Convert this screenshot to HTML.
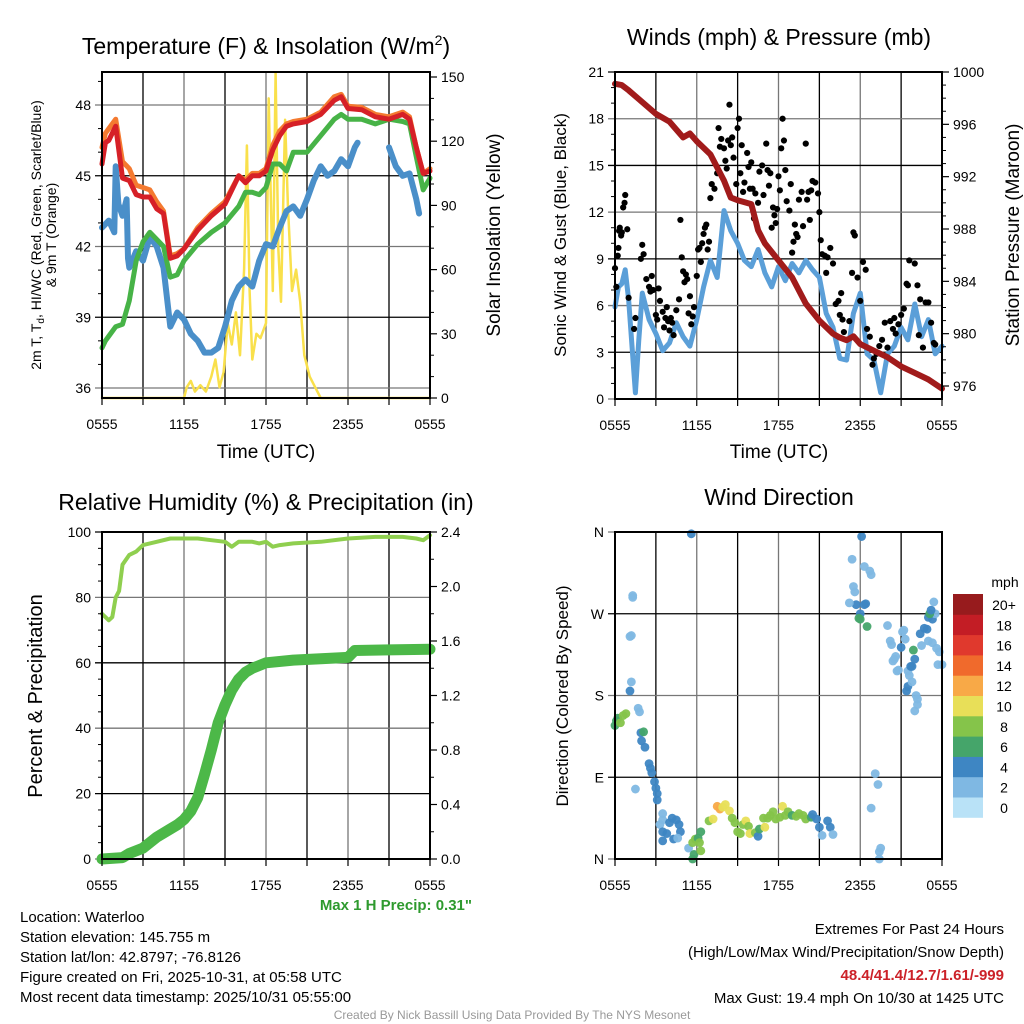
<!DOCTYPE html>
<html><head><meta charset="utf-8"><title>Mesonet Meteogram</title>
<style>
html,body{margin:0;padding:0;background:#fff;}
svg{display:block;font-family:"Liberation Sans",Arial,sans-serif;}
</style></head>
<body>
<svg id="chart" width="1024" height="1024" viewBox="0 0 1024 1024">
<g id="layer-grid"></g>
<g id="layer-data"></g>
<g id="layer-axes"></g>
<g id="layer-text">
<text x="266" y="54" font-size="23" text-anchor="middle">Temperature (F) &amp; Insolation (W/m<tspan dy="-9" font-size="14">2</tspan><tspan dy="9">)</tspan></text>
<text x="779" y="45" font-size="23" text-anchor="middle">Winds (mph) &amp; Pressure (mb)</text>
<text x="266" y="510" font-size="23" text-anchor="middle">Relative Humidity (%) &amp; Precipitation (in)</text>
<text x="779" y="505" font-size="23" text-anchor="middle">Wind Direction</text>

<text x="266" y="458" font-size="19" text-anchor="middle">Time (UTC)</text>
<text x="779" y="458" font-size="19" text-anchor="middle">Time (UTC)</text>
<g transform="translate(41,235) rotate(-90)">
<text x="0" y="0" font-size="14" text-anchor="middle">2m T, T<tspan font-size="10" dy="3">d</tspan><tspan dy="-3">, HI/WC (Red, Green, Scarlet/Blue)</tspan></text>
<text x="0" y="15" font-size="14" text-anchor="middle">&amp; 9m T (Orange)</text>
</g>
<text transform="translate(500,235) rotate(-90)" font-size="19" text-anchor="middle">Solar Insolation (Yellow)</text>
<text transform="translate(566,235) rotate(-90)" font-size="17" text-anchor="middle">Sonic Wind &amp; Gust (Blue, Black)</text>
<text transform="translate(1019,235) rotate(-90)" font-size="19" text-anchor="middle">Station Pressure (Maroon)</text>
<text transform="translate(42,696) rotate(-90)" font-size="20" text-anchor="middle">Percent &amp; Precipitation</text>
<text transform="translate(568,696) rotate(-90)" font-size="17" text-anchor="middle">Direction (Colored By Speed)</text>

<text x="472" y="910" font-size="15" font-weight="bold" fill="#2e9a2e" text-anchor="end">Max 1 H Precip: 0.31"</text>

<g font-size="15">
<text x="20" y="922">Location: Waterloo</text>
<text x="20" y="942">Station elevation: 145.755 m</text>
<text x="20" y="962">Station lat/lon: 42.8797; -76.8126</text>
<text x="20" y="982">Figure created on Fri, 2025-10-31, at 05:58 UTC</text>
<text x="20" y="1002">Most recent data timestamp: 2025/10/31 05:55:00</text>
</g>
<g font-size="15" text-anchor="end">
<text x="1004" y="934">Extremes For Past 24 Hours</text>
<text x="1004" y="957">(High/Low/Max Wind/Precipitation/Snow Depth)</text>
<text x="1004" y="980" fill="#cc2229" font-weight="bold">48.4/41.4/12.7/1.61/-999</text>
<text x="1004" y="1003">Max Gust: 19.4 mph On 10/30 at 1425 UTC</text>
</g>
<text x="512" y="1019" font-size="12" fill="#999" text-anchor="middle">Created By Nick Bassill Using Data Provided By The NYS Mesonet</text>
</g>
</svg>
<script>
// ---------- DATA ----------
const tempHours = [0,0.25,0.5,1,1.5,2,2.5,3,3.5,4,4.5,5,5.5,6,7,8,9,10,10.5,11,11.5,12,12.5,13,13.5,14,15,16,17,17.5,18,19,20,21,22,22.5,23,23.5,24];
const temp2m = [45.5,46.4,46.5,47.1,44.9,44.8,44.2,44.1,44.1,43.6,43.4,41.5,41.6,41.9,42.7,43.3,43.8,45.0,44.7,45.0,45.0,45.2,46.1,46.7,47.1,47.2,47.3,47.6,48.2,48.35,47.85,47.8,47.5,47.4,47.6,47.4,46.2,45.1,45.2];
const temp9m = [46.2,46.8,47.0,47.4,45.6,45.3,44.6,44.5,44.4,43.9,43.5,41.6,41.7,41.9,42.8,43.4,43.9,45.0,44.8,45.1,45.1,45.3,46.3,46.9,47.2,47.3,47.4,47.7,48.35,48.45,47.95,47.9,47.6,47.5,47.7,47.5,46.2,45.1,45.3];
const hiwc = [37.7,38.0,38.2,38.6,38.7,39.7,41.4,42.2,42.6,42.3,42.0,40.7,40.8,41.4,42.1,42.6,43.0,43.7,44.3,44.3,44.2,44.5,45.5,45.5,45.2,46.0,46.0,46.7,47.4,47.6,47.4,47.4,47.2,47.4,47.3,47.2,45.8,44.4,44.9];
const dewHours = [0,0.5,0.9,1,1.2,1.5,1.8,1.9,2,2.5,3,3.5,4,4.5,5,5.5,6,6.5,7,7.5,8,8.5,9,9.5,10,10.5,11,11.5,12,12.5,13,13.5,14,14.5,15,15.5,16,16.5,17,17.5,18,18.5,18.7,20.8,21,21.5,22,22.5,23,23.2];
const dewPoint = [42.8,43.1,42.6,45.4,43.8,43.3,44.0,41.5,41.1,41.8,41.4,42.4,42.0,41.1,38.6,39.2,38.9,38.3,38.0,37.5,37.5,37.7,38.6,39.7,40.3,40.6,40.3,41.4,42.1,42.0,42.8,43.5,43.7,43.3,44.0,44.8,45.4,45.0,45.2,45.7,45.4,46.2,46.4,null,46.2,45.4,45.0,45.1,44.0,43.4];
const solarHours = [0,6,6.2,6.5,6.8,7.2,7.6,8.0,8.3,8.6,8.9,9.2,9.5,9.8,10.1,10.4,10.6,10.8,11.0,11.3,11.6,12.0,12.2,12.5,12.7,12.9,13.1,13.4,13.6,13.9,14.2,14.5,14.8,15.2,15.6,16,24];
const solar = [0,0,5,8,3,6,3,10,18,5,12,35,25,40,20,60,118,50,18,30,28,35,140,50,152,70,45,130,90,50,60,45,20,10,5,0,0];
const tempTicks = [36,39,42,45,48];
const solarTicks = [0,30,60,90,120,150];
const timeLabels = ["0555","1155","1755","2355","0555"];

const windHours = [0,0.25,0.5,0.75,1,1.25,1.5,1.75,2,2.5,3,3.5,4,4.5,5,5.5,6,6.5,7,7.5,8,8.5,9,9.5,10,10.5,11,11.5,12,12.5,13,13.5,14,14.5,15,15.5,16,16.5,17,17.5,18,18.5,19,19.5,20,20.5,21,21.5,22,22.5,23,23.5,24];
const windSpeed = [5.9,7.2,7.4,8.3,6.4,3.4,0.4,3.8,6.8,5.1,4.2,3.1,3.6,4.9,4.0,3.4,5.1,7.2,8.9,7.8,12.1,10.8,10.0,8.9,8.5,9.6,8.1,7.2,8.5,7.6,8.7,8.1,8.9,8.3,7.8,5.5,4.6,2.6,2.5,5.5,6.8,2.9,2.5,0.4,2.9,3.4,4.6,3.8,6.1,4.0,5.1,2.9,3.4];
const gustHours = [0,0.1,0.2,0.25,0.3,0.35,0.45,0.5,0.6,0.7,0.75,0.9,1.0,1.4,1.5,1.9,2.0,2.1,2.3,2.5,2.6,2.7,2.8,3.0,3.1,3.2,3.3,3.5,3.6,3.7,3.8,3.9,4.0,4.1,4.2,4.3,4.5,4.7,4.8,4.9,5.0,5.1,5.2,5.3,5.4,5.5,5.6,5.7,5.8,6.0,6.1,6.2,6.3,6.4,6.5,6.6,6.7,6.8,6.9,7.0,7.1,7.3,7.5,7.6,7.7,7.8,8.0,8.1,8.2,8.3,8.4,8.5,8.6,8.7,8.9,9.0,9.1,9.2,9.3,9.4,9.5,9.7,9.8,9.9,10.0,10.1,10.2,10.3,10.5,10.6,10.8,10.9,11.1,11.2,11.3,11.4,11.5,11.6,11.7,11.8,11.9,12.0,12.1,12.2,12.3,12.4,12.5,12.6,12.8,12.9,13.0,13.1,13.2,13.3,13.4,13.5,13.7,13.8,14.0,14.1,14.2,14.3,14.4,14.5,14.7,14.9,15.0,15.1,15.2,15.4,15.5,15.6,15.8,16.0,16.2,16.4,16.5,16.6,16.7,16.8,17.0,17.2,17.4,17.5,17.6,17.8,18.0,18.2,18.4,18.5,18.7,18.9,19.0,19.2,19.4,19.6,19.8,20.0,20.2,20.4,20.5,20.6,20.8,21.0,21.2,21.4,21.5,21.6,22.0,22.2,22.3,22.4,22.6,22.8,23.0,23.2,23.4,23.5];
const gustSpeed = [8.4,7.2,9.2,9.7,10.8,11.0,10.5,10.7,12.3,12.6,13.1,10.9,6.5,4.5,5.2,9.0,9.9,9.3,7.7,7.2,6.9,7.9,7.0,5.4,5.1,7.1,6.3,5.6,4.6,5.2,5.9,5.0,4.4,5.2,4.9,4.1,5.7,6.4,11.5,9.1,8.2,7.5,8.0,7.7,5.5,6.6,4.8,5.3,5.9,7.9,9.6,9.7,8.8,10.0,10.6,11.0,11.2,9.6,10.1,12.9,13.8,13.5,14.5,17.4,16.2,16.7,16.1,15.3,14.8,16.6,18.9,16.3,16.8,15.5,13.8,17.4,18.0,14.5,16.3,13.3,13.9,15.8,14.9,13.5,15.2,13.5,11.6,13.2,12.6,14.6,15.0,13.1,16.4,14.7,13.7,14.5,11.0,12.3,11.8,11.3,12.2,14.3,13.4,16.1,18.0,16.6,14.7,12.7,12.1,13.8,9.4,10.1,11.2,10.6,10.4,12.8,13.3,11.1,16.4,12.8,13.3,11.5,13.4,14.0,13.9,13.2,12.0,10.2,9.3,9.2,8.1,9.1,9.7,8.7,6.1,6.3,5.4,6.8,5.1,4.3,3.8,5.0,8.1,10.7,10.5,7.8,6.3,8.8,8.3,4.5,4.0,2.2,2.6,2.9,3.4,3.8,4.9,3.3,5.0,4.5,5.2,4.2,4.8,5.4,5.8,7.4,7.3,8.9,8.7,7.3,4.1,6.4,3.3,6.2,6.2,4.9,3.6,3.5];
const pressHours = [0,0.5,1,2,3,4,5,5.5,6,7,8,8.5,9,10,10.5,11,12,13,14,15,16,16.5,17,17.5,18,19,20,21,22,23,24];
const pressure = [999.1,999.0,998.6,997.7,996.8,996.2,995.0,995.3,994.7,993.7,991.7,990.4,990.2,989.9,987.9,986.9,985.6,984.3,982.3,981.0,980.0,979.7,979.5,979.8,979.2,978.7,978.2,977.5,977.0,976.5,975.8];
const windTicks = [0,3,6,9,12,15,18,21];
const pressTicks = [976,980,984,988,992,996,1000];

const rhHours = [0,0.5,0.75,1,1.25,1.5,2,2.5,3,4,5,6,7,8,9,9.5,10,11,11.5,12,12.5,13,14,16,18,20,22,23,23.5,24];
const rh = [75,73,74,80,82,90,93,94,96,97,98,98,98,97.5,97,95.5,97,97,96.5,97,95.5,96,96.5,97,98,98.5,98.5,98,97.5,99];
const precipHours = [0,1.5,2,3,4,5,5.5,6,6.5,7,7.5,8,8.5,9,9.5,10,10.5,11,12,14,16,18,18.5,24];
const precip = [0,0.01,0.04,0.08,0.16,0.22,0.25,0.29,0.35,0.45,0.62,0.8,1.0,1.13,1.24,1.32,1.37,1.40,1.44,1.46,1.47,1.48,1.53,1.54];
const rhTicks = [0,20,40,60,80,100];
const precipTicks = ["0.0","0.4","0.8","1.2","1.6","2.0","2.4"];

const dirHours = [0,0.1,0.2,0.4,0.6,0.8,1.1,1.2,1.1,1.2,1.3,1.3,1.7,1.8,1.9,2.1,1.95,2.2,2.5,2.6,2.7,2.9,3.0,3.1,1.5,3.1,3.5,3.5,3.3,3.5,3.8,4.0,4.2,4.5,4.7,4.8,4.3,3.5,4.6,5.4,5.7,5.9,6.1,5.7,5.8,6.2,6.3,6.3,6.9,7.2,7.5,7.7,7.9,8.1,8.4,8.6,8.8,9.0,9.2,9.4,9.6,9.8,9.9,10.3,10.5,10.6,10.9,11.0,11.2,11.4,11.6,11.8,12.1,12.3,12.5,12.7,13.0,13.3,13.5,13.8,14.0,14.4,14.5,14.8,15.0,15.2,15.6,15.8,16.0,17.4,17.5,17.6,17.7,18.1,18.0,18.0,18.3,18.3,18.4,18.7,18.8,17.2,18.5,17.9,18.8,19.1,19.3,19.4,19.5,19.4,20.0,20.2,20.3,20.5,20.4,20.6,20.7,20.8,21.0,21.1,21.2,21.3,21.5,21.6,21.4,21.5,21.7,21.8,22.0,21.9,21.8,22.1,22.2,22.0,22.2,22.5,22.7,22.9,23.0,23.3,23.5,23.1,23.2,23.4,23.0,23.3,23.6,23.8,24.0,23.7,22.4,5.6];
const dirDegrees = [147,152,155,150,158,160,185,195,245,246,290,288,166,162,139,140,130,123,105,100,95,85,78,72,77,65,50,43,38,30,28,40,45,43,38,30,22,20,23,12,18,22,23,0,5,18,9,30,42,44,58,55,57,60,53,45,40,30,28,38,42,36,28,29,25,33,45,35,45,48,52,44,46,58,48,52,48,47,50,48,44,46,49,44,35,26,42,35,27,330,300,294,280,355,270,264,322,280,281,317,313,282,256,265,56,94,82,8,12,0,257,240,236,220,218,223,207,208,233,250,252,242,207,202,185,190,212,212,220,230,195,180,176,163,170,235,254,253,266,264,270,270,274,283,240,238,232,228,214,214,248,358];
const dirSpeed = [6,6,6,7,8,7,3,2,2,1,2,1,2,2,4,5,4,4,4,4,4,4,3,4,1,4,2,2,2,4,4,4,4,4,4,4,4,4,2,2,7,8,6,6,6,8,7,5,8,9,12,12,10,10,9,8,8,8,8,8,9,8,9,8,4,5,8,9,7,8,8,7,8,10,8,7,6,7,8,8,7,5,4,3,3,2,3,3,2,1,1,2,4,4,4,6,2,3,4,2,2,2,6,6,2,2,1,2,1,1,2,2,2,2,2,2,2,2,4,2,2,2,2,2,4,4,4,4,4,6,1,2,2,2,2,2,4,4,4,4,2,6,4,2,2,2,2,2,2,2,4,4];
const dirLabels = ["N","E","S","W","N"];
const speedBins = ["0","2","4","6","8","10","12","14","16","18","20+"];
const speedColors = ["#b9e2f7","#7fb8e3","#3e86c3","#45a56a","#85c44a","#e8df58","#f8a947","#f06a2c","#e0392d","#c31d25","#971b1d"];

// ---------- RENDER ----------
const NS = "http://www.w3.org/2000/svg";
const gGrid = document.getElementById("layer-grid");
const gData = document.getElementById("layer-data");
const gAxes = document.getElementById("layer-axes");
function mk(tag, attrs, parent) {
  const e = document.createElementNS(NS, tag);
  for (const k in attrs) e.setAttribute(k, attrs[k]);
  parent.appendChild(e);
  return e;
}
function lin(d0, d1, r0, r1) { return v => r0 + (v - d0) * (r1 - r0) / (d1 - d0); }

function linePath(xs, ys, sx, sy) {
  let d = "", pen = false;
  for (let i = 0; i < xs.length; i++) {
    if (ys[i] === null) { pen = false; continue; }
    d += (pen ? "L" : "M") + sx(xs[i]).toFixed(1) + "," + sy(ys[i]).toFixed(1);
    pen = true;
  }
  return d;
}

function panelFrame(p, name, leftTicks, leftScale, leftLabels, rightTicks, rightScale, rightLabels, minorLeft, minorRight) {
  for (let h = 3; h < 24; h += 3) {
    const x = p.sx(h);
    const v = mk("line", {x1: x, y1: p.top, x2: x, y2: p.bottom, stroke: h % 6 === 0 ? "#777" : "#000", "stroke-width": 1.3}, gGrid);
    
    
  }
  leftTicks.forEach((t, i) => {
    const y = leftScale(t);
    const g = mk("line", {x1: p.left - 7, y1: y, x2: p.right, y2: y, stroke: i % 2 ? "#000" : "#777", "stroke-width": 1.3}, gGrid);
    
    
    const tx = mk("text", {x: p.left - 11, y: y + 5, "font-size": 14, "text-anchor": "end"}, gAxes);
    tx.textContent = leftLabels[i];
    
    
  });
  (minorLeft || []).forEach(t => {
    const y = leftScale(t);
    mk("line", {x1: p.left - 4, y1: y, x2: p.left, y2: y, stroke: "#000", "stroke-width": 1}, gAxes);
  });
  if (rightTicks) {
    rightTicks.forEach((t, i) => {
      const y = rightScale(t);
      mk("line", {x1: p.right, y1: y, x2: p.right + 7, y2: y, stroke: "#000", "stroke-width": 1.2}, gAxes);
      const tx = mk("text", {x: p.right + 11, y: y + 5, "font-size": 14}, gAxes);
      tx.textContent = rightLabels[i];
      
      
    });
    (minorRight || []).forEach(t => {
      const y = rightScale(t);
      mk("line", {x1: p.right, y1: y, x2: p.right + 4, y2: y, stroke: "#000", "stroke-width": 1}, gAxes);
    });
  }
  for (let h = 0; h <= 24; h += 3) {
    const x = p.sx(h);
    mk("line", {x1: x, y1: p.bottom, x2: x, y2: p.bottom + 7, stroke: "#000", "stroke-width": 1.2}, gAxes);
  }
  timeLabels.forEach((l, i) => {
    const tx = mk("text", {x: p.sx(i * 6), y: p.bottom + 31, "font-size": 14, "text-anchor": "middle"}, gAxes);
    tx.textContent = l;
    
    
  });
  const fr = mk("rect", {x: p.left, y: p.top, width: p.right - p.left, height: p.bottom - p.top, fill: "none", stroke: "#000", "stroke-width": 2}, gAxes);
  
  
}

function drawLine(xs, ys, sx, sy, color, w, name) {
  const p = mk("path", {d: linePath(xs, ys, sx, sy), fill: "none", stroke: color, "stroke-width": w, "stroke-linejoin": "round", "stroke-linecap": "round"}, gData);
  
  
}

// Panel 1
const p1 = {left: 102, right: 430, top: 72, bottom: 398};
p1.sx = lin(0, 24, p1.left, p1.right);
const sT = lin(36, 48, 388, 105);
const sS = lin(0, 150, 398, 77);
const minorT = []; for (let v = 36; v <= 49; v++) if (v % 3) minorT.push(v);
const minorS = []; for (let v = 10; v <= 150; v += 10) if (v % 30) minorS.push(v);
panelFrame(p1, "temperature", tempTicks, sT, tempTicks.map(String), solarTicks, sS, solarTicks.map(String), minorT, minorS);
drawLine(solarHours, solar, p1.sx, sS, "#f9e04b", 2.5, "solar-insolation-line");
drawLine(dewHours, dewPoint, p1.sx, sT, "#4a8fc9", 6, "dewpoint-line");
drawLine(tempHours, hiwc, p1.sx, sT, "#47b347", 5, "heat-index-wind-chill-line");
drawLine(tempHours, temp9m, p1.sx, sT, "#f47a30", 5, "temperature-9m-line");
drawLine(tempHours, temp2m, p1.sx, sT, "#d62027", 5, "temperature-2m-line");

// Panel 2
const p2 = {left: 615, right: 942, top: 72, bottom: 399};
p2.sx = lin(0, 24, p2.left, p2.right);
const sW = lin(0, 21, 399, 72);
const sP = lin(976, 1000, 386, 72);
const minorW = []; for (let v = 1; v < 21; v++) if (v % 3) minorW.push(v);
const minorP = []; for (let v = 976; v <= 1000; v++) if (v % 4) minorP.push(v);
panelFrame(p2, "winds", windTicks, sW, windTicks.map(String), pressTicks, sP, pressTicks.map(String), minorW, minorP);
drawLine(windHours, windSpeed, p2.sx, sW, "#5b9fd8", 5, "sonic-wind-line");
gustHours.forEach((h, i) => {
  const c = mk("circle", {cx: p2.sx(h), cy: sW(gustSpeed[i]), r: 3.1, fill: "#000"}, gData);
  
  
});
drawLine(pressHours, pressure, p2.sx, sP, "#a11b1b", 6, "station-pressure-line");

// Panel 3
const p3 = {left: 102, right: 430, top: 532, bottom: 859};
p3.sx = lin(0, 24, p3.left, p3.right);
const sR = lin(0, 100, 859, 532);
const sPr = lin(0, 2.4, 859, 532);
const minorR = []; for (let v = 5; v < 100; v += 5) if (v % 20) minorR.push(v);
const minorPr = []; for (let v = 0.2; v < 2.4; v += 0.4) minorPr.push(v);
panelFrame(p3, "humidity", rhTicks, sR, rhTicks.map(String), precipTicks.map(Number), sPr, precipTicks, minorR, minorPr);
drawLine(rhHours, rh, p3.sx, sR, "#8fcf4f", 4, "relative-humidity-line");
drawLine(precipHours, precip, p3.sx, sPr, "#4cb848", 11, "precipitation-line");

// Panel 4
const p4 = {left: 615, right: 942, top: 532, bottom: 859};
p4.sx = lin(0, 24, p4.left, p4.right);
const sD = lin(0, 360, 859, 532);
const dirTicks = [0, 90, 180, 270, 360];
panelFrame(p4, "direction", dirTicks, sD, dirLabels, null, null, null, [], null);
function speedColor(s) { return speedColors[Math.min(10, Math.max(0, Math.round(s / 2)))]; }
dirHours.forEach((h, i) => {
  const c = mk("circle", {cx: p4.sx(h), cy: sD(dirDegrees[i]), r: 4.4, fill: speedColor(dirSpeed[i]), "fill-opacity": 0.95}, gData);
  
  
});
const cb = mk("g", {}, gAxes);


const cbTop = 594, cbH = 20.3;
speedBins.forEach((lab, i) => {
  const j = speedBins.length - 1 - i;
  const y = cbTop + j * cbH;
  const r = mk("rect", {x: 953, y: y, width: 30, height: cbH + 0.5, fill: speedColors[i]}, cb);
  
  
  const t = mk("text", {x: 1004, y: y + 16, "font-size": 14, "text-anchor": "middle"}, cb);
  t.textContent = lab;
  
  
});
const mph = mk("text", {x: 1005, y: 587, "font-size": 14, "text-anchor": "middle"}, cb);
mph.textContent = "mph";


</script>
</body></html>
